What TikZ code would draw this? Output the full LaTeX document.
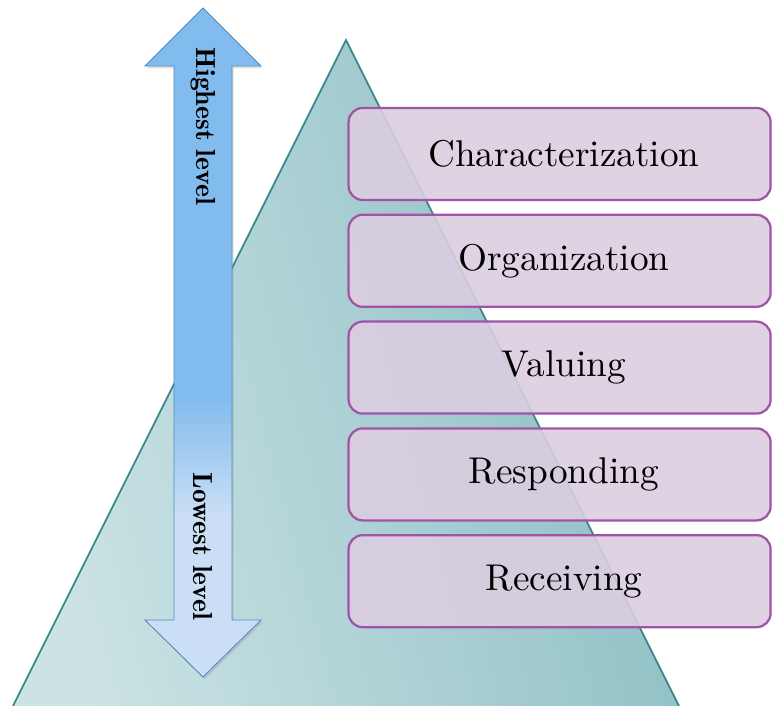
\documentclass[tikz,border=0pt]{standalone}
\usepackage{fontspec}
\usepackage{tikz}
\usetikzlibrary{shadows}

\newfontfamily\levelfont{lmroman10-regular.otf}
\newfontfamily\arrowfont{lmromandemi10-regular.otf}

\definecolor{arrowblue}{RGB}{130,187,237}
\definecolor{arrowlight}{RGB}{202,223,245}
\definecolor{arrowline}{RGB}{80,138,190}
\definecolor{tealline}{RGB}{52,132,136}
\definecolor{tealdark}{RGB}{138,189,195}
\definecolor{teallight}{RGB}{204,227,228}
\definecolor{boxline}{RGB}{163,82,170}
\definecolor{boxfill}{RGB}{219,206,224}

\pgfdeclareverticalshading{levelshade}{100bp}{color(0bp)=(arrowlight); color(37bp)=(arrowlight); color(46bp)=(arrowblue); color(100bp)=(arrowblue)}

\tikzset{
  levelbox/.style={draw=boxline, line width=1.6pt, fill=boxfill, fill opacity=0.9, text opacity=1,
    rounded corners=10pt, minimum width=10.55cm, minimum height=2.3cm, font=\levelfont\fontsize{26.5}{30}\selectfont},
  leveltext/.style={rotate=-90, font=\arrowfont\fontsize{19.6}{24}\selectfont}
}

\begin{document}
\begin{tikzpicture}
    \useasboundingbox (0,0) rectangle (19.325,17.65);
    % pyramid
    \coordinate (top) at (8.65,16.65);
    \coordinate (bl) at (0.325,0);
    \coordinate (br) at (16.975,0);
    \shade[top color=tealdark, bottom color=teallight, shading angle=-75] (bl) -- (top) -- (br) -- cycle;
    \draw[tealline, line width=1.2pt] (bl) -- (top) -- (br);
    % arrow
    \shade[shading=levelshade, draw=arrowline, line width=0.6pt,
      drop shadow={opacity=0.25, shadow xshift=0.04cm, shadow yshift=-0.06cm}]
      (5.075,17.45) -- (6.525,16.0) -- (5.8,16.0) -- (5.8,2.15) -- (6.525,2.15) -- (5.075,0.725)
      -- (3.625,2.15) -- (4.35,2.15) -- (4.35,16.0) -- (3.625,16.0) -- cycle;
    \node[leveltext] (high) at (5.075,14.49) {Highest level};
    \node[leveltext] (low) at (5.075,3.99) {Lowest level};
    % levels
    \node[levelbox] (char) at (13.99,13.8) {\hspace*{0.22cm}Characterization};
    \node[levelbox] (org) at (13.99,11.13) {\hspace*{0.22cm}Organization};
    \node[levelbox] (val) at (13.99,8.46) {\hspace*{0.22cm}Valuing};
    \node[levelbox] (resp) at (13.99,5.79) {\hspace*{0.22cm}Responding};
    \node[levelbox] (recv) at (13.99,3.12) {\hspace*{0.22cm}Receiving};
  \end{tikzpicture}
\end{document}
